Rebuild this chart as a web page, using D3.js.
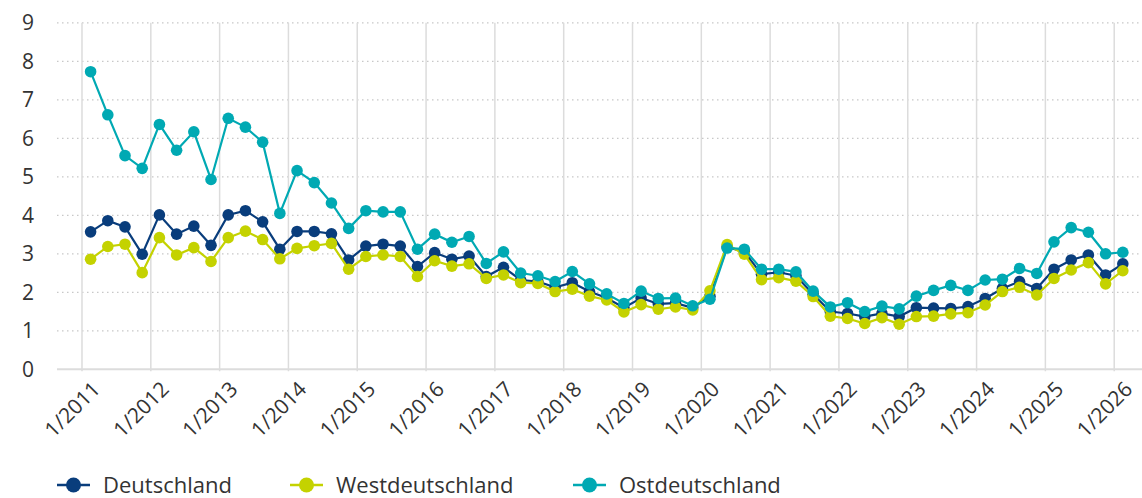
<!DOCTYPE html>
<html>
<head>
<meta charset="utf-8">
<script src="https://cdn.jsdelivr.net/npm/d3@7"></script>
<style>
  body { margin: 0; background: #fff; }
  text { font-family: "Open Sans", sans-serif; fill: #333; }
</style>
</head>
<body>
<script>
const width = 1142;
const height = 498;

// quarterly categories, 1/2011 .. 1/2026
const years = [2011, 2012, 2013, 2014, 2015, 2016, 2017, 2018, 2019, 2020, 2021, 2022, 2023, 2024, 2025, 2026];
const months = ["1", "4", "7", "10"];
const categories = [];
years.forEach(y => months.forEach(m => {
    if (y < 2026 || m === "1") categories.push(m + "/" + y);
}));

const deutschland = [3.57, 3.86, 3.70, 2.99, 4.01, 3.51, 3.72, 3.22, 4.01, 4.12, 3.83, 3.12, 3.58, 3.58, 3.52, 2.84,
    3.20, 3.25, 3.20, 2.67, 3.03, 2.86, 2.94, 2.41, 2.65, 2.32, 2.28, 2.13, 2.25, 2.02, 1.85, 1.60,
    1.85, 1.70, 1.72, 1.60, 1.90, 3.18, 3.05, 2.47, 2.52, 2.43, 1.95, 1.50, 1.45, 1.37, 1.45, 1.37,
    1.60, 1.59, 1.58, 1.63, 1.84, 2.10, 2.28, 2.10, 2.60, 2.84, 2.97, 2.45, 2.74];
const westdeutschland = [2.86, 3.19, 3.25, 2.51, 3.42, 2.97, 3.16, 2.80, 3.42, 3.59, 3.37, 2.87, 3.14, 3.21, 3.27, 2.60,
    2.93, 2.97, 2.93, 2.41, 2.82, 2.68, 2.74, 2.36, 2.45, 2.25, 2.23, 2.02, 2.08, 1.90, 1.80, 1.49,
    1.68, 1.56, 1.62, 1.54, 2.04, 3.24, 2.99, 2.33, 2.38, 2.29, 1.89, 1.38, 1.32, 1.19, 1.34, 1.17,
    1.37, 1.38, 1.44, 1.47, 1.67, 2.02, 2.13, 1.93, 2.36, 2.58, 2.77, 2.22, 2.56];
const ostdeutschland = [7.73, 6.61, 5.55, 5.22, 6.36, 5.69, 6.17, 4.93, 6.52, 6.29, 5.90, 4.05, 5.16, 4.85, 4.32, 3.66,
    4.12, 4.09, 4.09, 3.12, 3.51, 3.30, 3.45, 2.75, 3.05, 2.50, 2.43, 2.28, 2.54, 2.22, 1.96, 1.71,
    2.03, 1.84, 1.85, 1.65, 1.82, 3.15, 3.12, 2.60, 2.60, 2.53, 2.03, 1.62, 1.73, 1.50, 1.64, 1.57,
    1.90, 2.05, 2.18, 2.05, 2.32, 2.34, 2.62, 2.49, 3.31, 3.68, 3.56, 3.00, 3.04];

const yTicks = [0, 1, 2, 3, 4, 5, 6, 7, 8, 9];

const series = [
    {name: "Deutschland", values: deutschland, color: "#093d7c"},
    {name: "Westdeutschland", values: westdeutschland, color: "#c4d200"},
    {name: "Ostdeutschland", values: ostdeutschland, color: "#00a9b3"}
];

const plotLeft = 57, plotRight = 1142, plotTop = 22.8, plotBottom = 369.3;

const svg = d3.select("body").append("svg")
    .attr("width", width)
    .attr("height", height);

const x = d3.scalePoint()
    .domain(categories)
    .range([90.6, 1122.8]);
const step = x.step();

const y = d3.scaleLinear()
    .domain([0, 9])
    .range([plotBottom, plotTop]);

// horizontal dotted grid
svg.append("g")
    .selectAll("line")
    .data(yTicks.filter(d => d > 0))
    .enter().append("line")
    .attr("x1", plotLeft)
    .attr("x2", plotRight)
    .attr("y1", d => y(d))
    .attr("y2", d => y(d))
    .attr("stroke", "#c8c8c8")
    .attr("stroke-width", 1.2)
    .attr("stroke-dasharray", "1.5,3.5");

// vertical year lines, between categories
const yearCats = categories.filter(c => c.startsWith("1/"));
svg.append("g")
    .selectAll("line")
    .data(yearCats)
    .enter().append("line")
    .attr("x1", d => x(d) - step / 2)
    .attr("x2", d => x(d) - step / 2)
    .attr("y1", plotTop)
    .attr("y2", plotBottom + 2)
    .attr("stroke", "#dcdcdc")
    .attr("stroke-width", 1.5);

// base line
svg.append("line")
    .attr("x1", plotLeft)
    .attr("x2", plotRight)
    .attr("y1", plotBottom)
    .attr("y2", plotBottom)
    .attr("stroke", "#dcdcdc")
    .attr("stroke-width", 2);

// y axis
const yAxis = svg.append("g")
    .attr("transform", `translate(34,0)`)
    .call(d3.axisLeft(y).tickValues(yTicks).tickSize(0).tickPadding(0).tickFormat(d3.format("d")));
yAxis.select(".domain").remove();
yAxis.selectAll("text")
    .style("font-family", "'Open Sans', sans-serif")
    .style("font-size", "21px")
    .attr("fill", "#333");

// x axis
const xAxis = svg.append("g")
    .attr("transform", `translate(0,${plotBottom})`)
    .call(d3.axisBottom(x).tickValues(yearCats).tickSize(0));
xAxis.select(".domain").remove();
xAxis.selectAll("text")
    .style("font-family", "'Open Sans', sans-serif")
    .style("font-size", "21px")
    .attr("fill", "#333")
    .attr("text-anchor", "end")
    .attr("dy", "0.35em")
    .attr("transform", "translate(3,14) rotate(-45)");

// lines and markers
const line = d3.line()
    .x((d, i) => x(categories[i]))
    .y(d => y(d));

series.forEach(s => {
    const g = svg.append("g");
    g.append("path")
        .datum(s.values)
        .attr("fill", "none")
        .attr("stroke", s.color)
        .attr("stroke-width", 2.2)
        .attr("d", line);
    g.selectAll("circle")
        .data(s.values)
        .enter().append("circle")
        .attr("cx", (d, i) => x(categories[i]))
        .attr("cy", d => y(d))
        .attr("r", 5.8)
        .attr("fill", s.color);
});

// legend
const legendX = [57, 290, 573];
const legend = svg.append("g");
series.forEach((s, i) => {
    const g = legend.append("g").attr("transform", `translate(${legendX[i]},485)`);
    g.append("line")
        .attr("x1", 0).attr("x2", 33)
        .attr("stroke", s.color)
        .attr("stroke-width", 2.5);
    g.append("circle")
        .attr("cx", 16.5)
        .attr("r", 7.5)
        .attr("fill", s.color);
    g.append("text")
        .attr("x", 46)
        .attr("dy", "0.35em")
        .style("font-size", "22px")
        .text(s.name);
});
</script>
</body>
</html>
